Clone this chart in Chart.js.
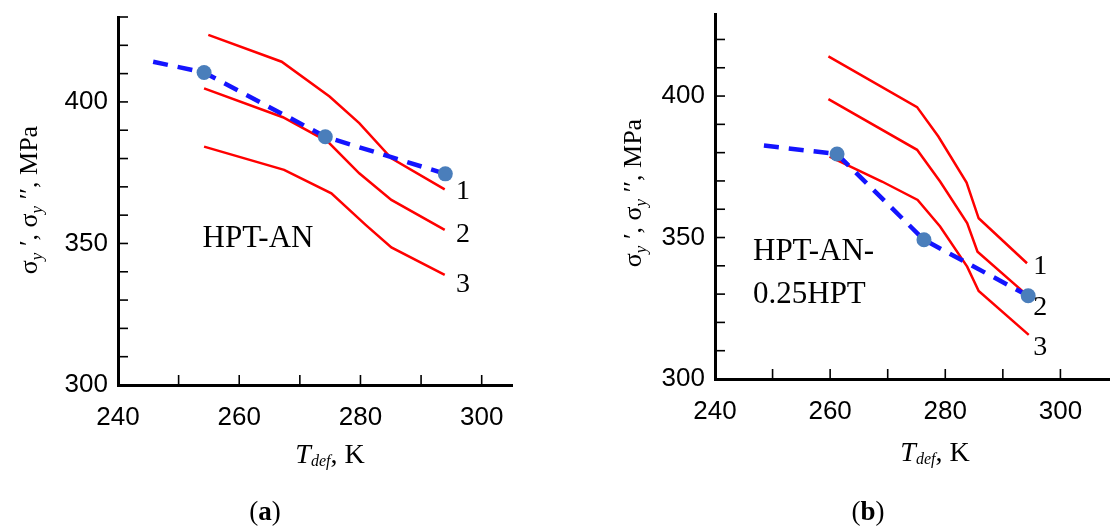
<!DOCTYPE html>
<html>
<head>
<meta charset="utf-8">
<script src="https://cdn.jsdelivr.net/npm/chart.js@4.4.1/dist/chart.umd.min.js"></script>
<style>
  body { margin: 0; background: #fff; width: 1110px; height: 528px; position: relative; overflow: hidden; }
  canvas { position: absolute; top: 0; }
  #ca { left: 0; }
  #cb { left: 555px; }
</style>
</head>
<body>
<canvas id="ca" width="530" height="528"></canvas>
<canvas id="cb" width="563" height="528"></canvas>
<script>
// ---- panel (a): HPT-AN ----
const aT1 = [254.9, 267.0, 274.9, 279.8, 285.1, 293.9];
const aS1 = [423.7, 414.2, 401.9, 392.5, 380.1, 369.1];
const aT2 = [254.2, 267.2, 274.6, 279.8, 285.1, 293.9];
const aS2 = [404.8, 394.6, 386.0, 374.8, 365.4, 354.8];
const aT3 = [254.2, 267.4, 275.2, 280.9, 285.1, 293.9];
const aS3 = [384.2, 376.0, 367.7, 356.5, 348.6, 338.9];
const aDashT = [245.8, 254.2, 274.2, 294.0];
const aDashS = [414.2, 410.4, 387.7, 374.6];
const aPtT = [254.2, 274.2, 294.0];
const aPtS = [410.4, 387.7, 374.6];

// ---- panel (b): HPT-AN-0.25HPT ----
const bT1 = [259.7, 275.1, 278.8, 283.7, 285.8, 294.2];
const bS1 = [414.0, 396.1, 385.7, 369.4, 356.8, 340.9];
const bT2 = [259.7, 275.1, 279.1, 283.8, 285.6, 294.5];
const bS2 = [398.9, 381.0, 369.8, 355.1, 345.0, 329.1];
const bT3 = [259.9, 269.0, 275.2, 279.1, 283.8, 285.8, 294.5];
const bS3 = [378.6, 369.8, 363.3, 353.9, 339.7, 331.1, 315.6];
const bDashT = [248.5, 261.2, 276.3, 294.4];
const bDashS = [382.5, 379.5, 349.2, 329.4];
const bPtT = [261.2, 276.3, 294.4];
const bPtS = [379.5, 349.2, 329.4];

const xTickLabels = [240, 260, 280, 300];
const yTickLabels = [300, 350, 400];

const pts = (xs, ys) => xs.map((x, i) => ({ x: x, y: ys[i] }));

const RED = '#ff0000';
const BLUE = '#1414ff';
const DOT = '#4a7ebb';
const SERIF = '"Liberation Serif", "Times New Roman", serif';
const SANS = '"Liberation Sans", Arial, sans-serif';

// draw a row of text pieces with different fonts, centred on (x, y)
function drawRuns(ctx, runs, x, y) {
  let total = 0;
  runs.forEach(r => { ctx.font = r.font; total += ctx.measureText(r.text).width; });
  let cx = x - total / 2;
  ctx.textAlign = 'left';
  ctx.textBaseline = 'alphabetic';
  runs.forEach(r => {
    ctx.font = r.font;
    ctx.fillText(r.text, cx, y + (r.dy || 0));
    cx += ctx.measureText(r.text).width;
  });
}

// short tick marks pointing into the plot
const innerTicks = {
  id: 'innerTicks',
  afterDraw(chart) {
    const { ctx, chartArea, scales: { x, y } } = chart;
    ctx.save();
    ctx.strokeStyle = '#000';
    ctx.lineWidth = 1.6;
    x.ticks.forEach(t => {
      const v = Math.round(t.value);
      if (v % 10 !== 0 || v === x.min) return;
      const px = x.getPixelForValue(v);
      ctx.beginPath(); ctx.moveTo(px, chartArea.bottom); ctx.lineTo(px, chartArea.bottom - 10); ctx.stroke();
    });
    y.ticks.forEach(t => {
      const v = Math.round(t.value);
      if (v % 10 !== 0 || v === y.min) return;
      const py = y.getPixelForValue(v);
      ctx.beginPath(); ctx.moveTo(chartArea.left, py); ctx.lineTo(chartArea.left + 10, py); ctx.stroke();
    });
    ctx.restore();
  }
};

const texts = {
  id: 'texts',
  afterDraw(chart) {
    const o = chart.options.plugins.texts;
    const { ctx, scales: { x, y } } = chart;
    ctx.save();
    ctx.fillStyle = '#000';
    // curve numbers and sample name, placed in data units
    o.notes.forEach(n => {
      ctx.font = (n.size || 28) + 'px ' + SERIF;
      ctx.textAlign = n.align || 'center';
      ctx.textBaseline = 'middle';
      ctx.fillText(n.text, x.getPixelForValue(n.x), y.getPixelForValue(n.y));
    });
    // y axis title, rotated
    ctx.save();
    ctx.translate(o.yTitle[0], o.yTitle[1]);
    ctx.rotate(-Math.PI / 2);
    const big = '26px ' + SERIF, sub = 'italic 17px ' + SERIF;
    drawRuns(ctx, [
      { text: 'σ', font: big }, { text: 'y', font: sub, dy: 5 }, { text: ' ′', font: big },
      { text: ', ', font: big },
      { text: 'σ', font: big }, { text: 'y', font: sub, dy: 5 }, { text: ' ′′', font: big },
      { text: ', MPa', font: big }
    ], 0, 9);
    ctx.restore();
    // x axis title
    drawRuns(ctx, [
      { text: 'T', font: 'italic 28px ' + SERIF },
      { text: 'def', font: 'italic 16px ' + SERIF, dy: 3 },
      { text: ', K', font: '28px ' + SERIF }
    ], o.xTitle[0], o.xTitle[1]);
    // sub-figure label
    drawRuns(ctx, [
      { text: '(', font: '27px ' + SERIF },
      { text: o.tag, font: 'bold 27px ' + SERIF },
      { text: ')', font: '27px ' + SERIF }
    ], o.tagPos[0], o.tagPos[1]);
    ctx.restore();
  }
};

function makePanel(id, d) {
  return new Chart(document.getElementById(id), {
    type: 'scatter',
    data: {
      datasets: [
        { data: pts(d.ptT, d.ptS), showLine: false, pointRadius: 7.5, pointBackgroundColor: DOT, pointBorderWidth: 0 },
        { data: pts(d.dashT, d.dashS), showLine: true, borderColor: BLUE, borderWidth: 4.5, borderDash: [15, 10], pointRadius: 0 },
        { data: pts(d.t1, d.s1), showLine: true, borderColor: RED, borderWidth: 2.5, pointRadius: 0 },
        { data: pts(d.t2, d.s2), showLine: true, borderColor: RED, borderWidth: 2.5, pointRadius: 0 },
        { data: pts(d.t3, d.s3), showLine: true, borderColor: RED, borderWidth: 2.5, pointRadius: 0 }
      ]
    },
    options: {
      responsive: false,
      animation: false,
      layout: { padding: { top: d.padTop, right: d.padRight, left: 0, bottom: 0 } },
      plugins: {
        legend: { display: false },
        tooltip: { enabled: false },
        texts: d.texts
      },
      scales: {
        x: {
          type: 'linear', min: 240, max: d.xMax,
          grid: { drawOnChartArea: false, drawTicks: false },
          border: { color: '#000', width: 3 },
          ticks: {
            stepSize: 10, includeBounds: false, padding: 17, color: '#000', maxRotation: 0, autoSkip: false,
            font: { family: SANS, size: 26 },
            callback: v => xTickLabels.includes(Math.round(v)) ? String(Math.round(v)) : ''
          },
          afterFit: s => { s.height = d.xH; s.paddingLeft = 0; s.paddingRight = 0; }
        },
        y: {
          type: 'linear', min: 300, max: d.yMax,
          grid: { drawOnChartArea: false, drawTicks: false },
          border: { color: '#000', width: 3 },
          ticks: {
            stepSize: 10, includeBounds: false, padding: 10, color: '#000', autoSkip: false,
            font: { family: SANS, size: 26 },
            callback: v => yTickLabels.includes(Math.round(v)) ? String(Math.round(v)) : ''
          },
          afterFit: s => { s.width = d.yW; s.paddingTop = 0; s.paddingBottom = 0; }
        }
      }
    },
    plugins: [innerTicks, texts]
  });
}

makePanel('ca', {
  t1: aT1, s1: aS1, t2: aT2, s2: aS2, t3: aT3, s3: aS3,
  dashT: aDashT, dashS: aDashS, ptT: aPtT, ptS: aPtS,
  xMax: 305, yMax: 430, padTop: 17, padRight: 18, xH: 143, yW: 118,
  texts: {
    notes: [
      { text: '1', x: 296.9, y: 368.2 },
      { text: '2', x: 296.9, y: 353.0 },
      { text: '3', x: 296.9, y: 335.3 },
      { text: 'HPT-AN', x: 263.1, y: 351.6, size: 31 }
    ],
    yTitle: [28, 200], xTitle: [330, 463], tag: 'a', tagPos: [265, 520]
  }
});

makePanel('cb', {
  t1: bT1, s1: bS1, t2: bT2, s2: bS2, t3: bT3, s3: bS3,
  dashT: bDashT, dashS: bDashS, ptT: bPtT, ptS: bPtS,
  xMax: 308.7, yMax: 429, padTop: 14, padRight: 0, xH: 149, yW: 160,
  texts: {
    notes: [
      { text: '1', x: 296.5, y: 339.6 },
      { text: '2', x: 296.5, y: 325.1 },
      { text: '3', x: 296.5, y: 311.0 },
      { text: 'HPT-AN-', x: 246.6, y: 344.9, align: 'left', size: 31 },
      { text: '0.25HPT', x: 246.6, y: 329.7, align: 'left', size: 31 }
    ],
    yTitle: [77, 193], xTitle: [380, 461], tag: 'b', tagPos: [313, 520]
  }
});
</script>
</body>
</html>
